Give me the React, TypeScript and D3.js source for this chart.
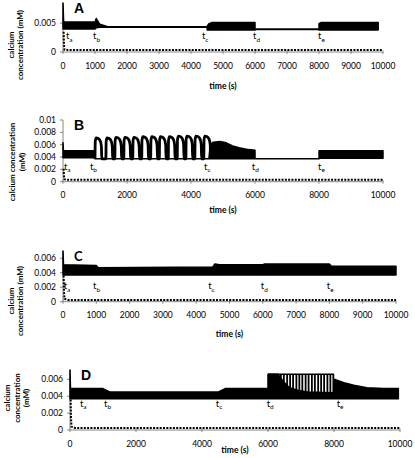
import React from 'react';
import * as d3 from 'd3';

// ---------- DATA ----------
const tNames = ['a', 'b', 'c', 'd', 'e'];

// Panel A
const aTime = [0, 20, 1000, 1040, 1150, 1400, 4500, 4510, 4560, 4650, 6000, 6001, 8000, 8001, 8060, 9850];
const aUpper = [0.0085, 0.0052, 0.0052, 0.0058, 0.0048, 0.0044, 0.0044, 0.0045, 0.0049, 0.0051, 0.0051, 0.0040, 0.0040, 0.0049, 0.0051, 0.0051];
const aLower = [0.0040, 0.0040, 0.0040, 0.0042, 0.0043, 0.0043, 0.0043, 0.0038, 0.0038, 0.0038, 0.0038, 0.0039, 0.0039, 0.0038, 0.0038, 0.0038];
const aXTicks = [0, 1000, 2000, 3000, 4000, 5000, 6000, 7000, 8000, 9000, 10000];
const aYTicks = [0, 0.005];
const aLabelTime = [90, 940, 4340, 5940, 7970];
const aLabelValue = 0.0022;
const aDotTime = [20, 30, 45, 150, 10000];
const aDotValue = [0.0035, 0.0015, 0.0004, 0.00035, 0.00035];

// Panel B
const bTime = [0, 15, 1000, 1001, 4560, 4600, 4700, 4900, 5100, 5300, 5500, 5800, 6000, 6001, 8000, 8001, 10000];
const bUpper = [0.0063, 0.0050, 0.0050, 0.0037, 0.0037, 0.0060, 0.0064, 0.0065, 0.0063, 0.0058, 0.0055, 0.0052, 0.0051, 0.0037, 0.0037, 0.0050, 0.0050];
const bLower = [0.0039, 0.0039, 0.0039, 0.0037, 0.0037, 0.0037, 0.0037, 0.0037, 0.0037, 0.0037, 0.0037, 0.0037, 0.0037, 0.0037, 0.0037, 0.0038, 0.0038];
const bSpikeStart = [1000, 1340, 1620, 1900, 2180, 2460, 2740, 3010, 3290, 3570, 3840, 4120, 4400];
const bSpikePeak = [0.0071, 0.0071, 0.0072, 0.0072, 0.0072, 0.0073, 0.0073, 0.0073, 0.0073, 0.0074, 0.0074, 0.0074, 0.0074];
const bXTicks = [0, 2000, 4000, 6000, 8000, 10000];
const bYTicks = [0, 0.002, 0.004, 0.006, 0.008, 0.01];
const bLabelTime = [30, 840, 4410, 5900, 7970];
const bLabelValue = 0.0019;
const bDotTime = [20, 30, 45, 150, 10000];
const bDotValue = [0.0021, 0.0010, 0.0004, 0.0003, 0.0003];

// Panel C
const cTime = [0, 15, 1000, 1060, 4500, 4560, 4700, 6000, 6060, 8000, 8060, 10000];
const cUpper = [0.0070, 0.0051, 0.0050, 0.0047, 0.0048, 0.0052, 0.0051, 0.0051, 0.0052, 0.0052, 0.0049, 0.0049];
const cLower = [0.0037, 0.0037, 0.0037, 0.0037, 0.0037, 0.0037, 0.0037, 0.0037, 0.0037, 0.0037, 0.0037, 0.0037];
const cXTicks = [0, 1000, 2000, 3000, 4000, 5000, 6000, 7000, 8000, 9000, 10000];
const cYTicks = [0, 0.002, 0.004, 0.006];
const cLabelTime = [20, 900, 4360, 5940, 7920];
const cLabelValue = 0.00175;
const cDotTime = [20, 30, 45, 150, 10000];
const cDotValue = [0.0036, 0.0015, 0.0004, 0.00025, 0.00025];

// Panel D
const dTime = [0, 15, 1000, 1200, 4500, 4700, 6000, 6001, 6300, 6450, 6650, 6900, 7200, 8000, 8001, 8300, 8600, 9000, 9500, 9950];
const dUpper = [0.0071, 0.0049, 0.0049, 0.0045, 0.0045, 0.0049, 0.0049, 0.0066, 0.0066, 0.0058, 0.0050, 0.0047, 0.0045, 0.0044, 0.0060, 0.0056, 0.0053, 0.0050, 0.0049, 0.0049];
const dLower = [0.0037, 0.0037, 0.0037, 0.0037, 0.0037, 0.0037, 0.0037, 0.0037, 0.0037, 0.0037, 0.0037, 0.0037, 0.0037, 0.0037, 0.0037, 0.0037, 0.0037, 0.0037, 0.0037, 0.0037];
const dSpikeTimes = [6020, 6110, 6200, 6300, 6390, 6480, 6580, 6670, 6760, 6860, 6950, 7040, 7140, 7230, 7330, 7420, 7520, 7610, 7700, 7800, 7890, 7980];
const dSpikeTop = 0.0066;
const dSpikeBase = 0.0037;
const dXTicks = [0, 2000, 4000, 6000, 8000, 10000];
const dYTicks = [0, 0.002, 0.004, 0.006];
const dLabelTime = [300, 1030, 4420, 5960, 8080];
const dLabelValue = 0.00275;
const dDotTime = [20, 30, 45, 150, 10000];
const dDotValue = [0.0036, 0.0015, 0.0004, 0.00025, 0.00025];

// ---------- RENDER ----------
const tickFont = 'Lato, "Open Sans", sans-serif';

type PanelProps = {
  letter: string;
  letterFont: string;
  letterSize: number;
  left: number; right: number; zero: number; top: number; yMax: number;
  time: number[]; upper: number[]; lower: number[];
  xTicks: number[]; yTicks: number[];
  labelTime: number[]; labelValue: number;
  dotTime: number[]; dotValue: number[];
  yTitle: { text: string; x: number }[]; yTitleCenter: number;
  timeBaseline: number;
  children?: (x: d3.ScaleLinear<number, number>, y: d3.ScaleLinear<number, number>) => React.ReactNode;
};

function fmtY(v: number) {
  return String(+v.toFixed(3));
}

function Panel(p: PanelProps) {
  const x = d3.scaleLinear().domain([0, 10000]).range([p.left, p.right]);
  const y = d3.scaleLinear().domain([0, p.yMax]).range([p.zero, p.top]);
  const pts = p.time.map((t, i) => ({ t, u: p.upper[i], l: p.lower[i] }));
  const area = d3.area<any>().x(d => x(d.t)).y0(d => y(d.l)).y1(d => y(d.u))(pts) || '';
  const dots = d3.line<number>().x((t) => x(t)).y((_, i) => y(p.dotValue[i]))(p.dotTime) || '';
  const axisColor = '#868686';
  return (
    <g>
      <line x1={p.left} x2={p.left} y1={p.top} y2={p.zero} stroke={axisColor} strokeWidth={1} />
      <line x1={p.left} x2={p.right} y1={p.zero} y2={p.zero} stroke={axisColor} strokeWidth={1} />
      {p.yTicks.map((v, i) => (
        <g key={'yt' + i}>
          <line x1={p.left - 3} x2={p.left} y1={y(v)} y2={y(v)} stroke={axisColor} />
          <text x={p.left - 7} y={y(v)} dy="0.34em" textAnchor="end" fontFamily={tickFont} fontSize={8.5} fill="#000">{fmtY(v)}</text>
        </g>
      ))}
      {p.xTicks.map((v, i) => (
        <g key={'xt' + i}>
          <line x1={x(v)} x2={x(v)} y1={p.zero - 1.5} y2={p.zero + 2} stroke={axisColor} />
          <text x={x(v)} y={p.zero + 16.5} textAnchor="middle" fontFamily={tickFont} fontSize={8.5} fill="#000">{v}</text>
        </g>
      ))}
      <path d={area} fill="#000" stroke="#000" strokeWidth={1.5} strokeLinejoin="round" />
      {p.children && p.children(x, y)}
      <path d={dots} fill="none" stroke="#000" strokeWidth={2} strokeDasharray="2,1.3" />
      {p.labelTime.map((t, i) => (
        <text key={'tl' + i} x={x(t)} y={y(p.labelValue)} fontFamily={tickFont} fontSize={9.5} fill="#000">
          t<tspan fontSize={6.5} dy={2.5}>{tNames[i]}</tspan>
        </text>
      ))}
      <text x={p.left + 11} y={y(p.yMax) + 10} fontFamily={p.letterFont} fontWeight="bold" fontSize={p.letterSize} fill="#000">{p.letter}</text>
      <text x={(p.left + p.right) / 2} y={p.timeBaseline} textAnchor="middle" fontFamily={tickFont} fontWeight="bold" fontSize={8.5} fill="#000">time (s)</text>
      {p.yTitle.map((l, i) => (
        <text key={'yl' + i} transform={`translate(${l.x},${p.yTitleCenter}) rotate(-90)`} textAnchor="middle" dy="0.35em" fontFamily={tickFont} fontWeight="bold" fontSize={8} fill="#000">{l.text}</text>
      ))}
    </g>
  );
}

export default function App() {
  return (
    <svg width={415} height={458} style={{ position: 'absolute', left: 0, top: 0, background: '#fff' }}>
      <rect x={0} y={0} width={415} height={458} fill="#fff" />
      <Panel letter="A" letterFont='"Liberation Sans", Arial, sans-serif' letterSize={14}
        left={63} right={383} zero={52} top={3} yMax={0.0085}
        time={aTime} upper={aUpper} lower={aLower} xTicks={aXTicks} yTicks={aYTicks}
        labelTime={aLabelTime} labelValue={aLabelValue} dotTime={aDotTime} dotValue={aDotValue}
        yTitle={[{ text: 'calcium', x: 11 }, { text: 'concentration (mM)', x: 20 }]} yTitleCenter={45}
        timeBaseline={89} />
      <Panel letter="B" letterFont='"Liberation Sans", Arial, sans-serif' letterSize={14}
        left={63} right={383} zero={181.7} top={120} yMax={0.01}
        time={bTime} upper={bUpper} lower={bLower} xTicks={bXTicks} yTicks={bYTicks}
        labelTime={bLabelTime} labelValue={bLabelValue} dotTime={bDotTime} dotValue={bDotValue}
        yTitle={[{ text: 'calcium concentration', x: 12 }, { text: '(mM)', x: 22 }]} yTitleCenter={162}
        timeBaseline={213}>
        {(x, y) => {
          const pts: [number, number][] = [];
          bSpikeStart.forEach((s, i) => {
            const pk = bSpikePeak[i];
            pts.push([s, 0.0037], [s + 8, pk - 0.0006], [s + 35, pk], [s + 100, pk - 0.0001], [s + 165, pk - 0.0005], [s + 200, pk - 0.0014], [s + 212, 0.0037]);
          });
          const d = d3.line<[number, number]>().x(q => x(q[0])).y(q => y(q[1])).curve(d3.curveMonotoneX)(pts) || '';
          return <path d={d} fill="none" stroke="#000" strokeWidth={2.8} strokeLinejoin="round" />;
        }}
      </Panel>
      <Panel letter="C" letterFont='Lato, sans-serif' letterSize={13}
        left={63} right={396} zero={301.7} top={251} yMax={0.007}
        time={cTime} upper={cUpper} lower={cLower} xTicks={cXTicks} yTicks={cYTicks}
        labelTime={cLabelTime} labelValue={cLabelValue} dotTime={cDotTime} dotValue={cDotValue}
        yTitle={[{ text: 'calcium', x: 11 }, { text: 'concentration (mM)', x: 20 }]} yTitleCenter={301}
        timeBaseline={337} />
      <Panel letter="D" letterFont='"Liberation Sans", Arial, sans-serif' letterSize={14}
        left={70} right={400} zero={430} top={370} yMax={0.0071}
        time={dTime} upper={dUpper} lower={dLower} xTicks={dXTicks} yTicks={dYTicks}
        labelTime={dLabelTime} labelValue={dLabelValue} dotTime={dDotTime} dotValue={dDotValue}
        yTitle={[{ text: 'calcium', x: 7 }, { text: 'concentration', x: 17 }, { text: '(mM)', x: 26 }]} yTitleCenter={398}
        timeBaseline={453}>
        {(x, y) => (
          <g>
            <line x1={x(6000)} x2={x(8000)} y1={y(dSpikeTop)} y2={y(dSpikeTop)} stroke="#000" strokeWidth={1.5} />
            {dSpikeTimes.map((t, i) => (
              <line key={i} x1={x(t)} x2={x(t)} y1={y(dSpikeBase)} y2={y(dSpikeTop)} stroke="#000" strokeWidth={1.8} />
            ))}
          </g>
        )}
      </Panel>
    </svg>
  );
}
